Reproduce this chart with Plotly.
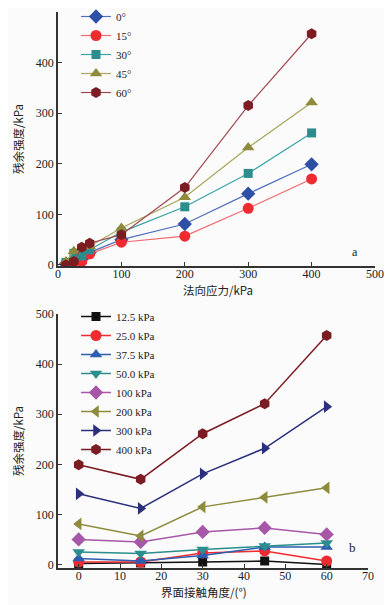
import plotly.graph_objects as go

# ---- data ----
normal_stress = [12.5, 25.0, 37.5, 50.0, 100, 200, 300, 400]          # kPa
angles = [0, 15, 30, 45, 60]                                        # degrees
stress_labels = ["12.5 kPa", "25.0 kPa", "37.5 kPa", "50.0 kPa", "100 kPa", "200 kPa", "300 kPa", "400 kPa"]
angle_labels = ["0°", "15°", "30°", "45°", "60°"]

# residual strength (kPa) per normal stress, values at angles 0,15,30,45,60
res_12_5 = [2, 3, 5, 7, 0]
res_25_0 = [5, 5, 23, 27, 7]
res_37_5 = [12, 7, 18, 35, 35]
res_50_0 = [25, 22, 30, 37, 43]
res_100 = [50, 45, 65, 73, 60]
res_200 = [81, 57, 115, 134, 153]
res_300 = [141, 112, 181, 232, 315]
res_400 = [199, 170, 261, 321, 457]
by_stress = [res_12_5, res_25_0, res_37_5, res_50_0, res_100, res_200, res_300, res_400]

# ---- styles ----
top_colors = ["#2D50A6", "#EE2B30", "#2A8E8E", "#8E8B3C", "#7B1C22"]
top_lines = ["#4F6FC0", "#F06A6E", "#3AA3A3", "#A8A45A", "#A04850"]
top_symbols = ["diamond", "circle", "square", "triangle-up", "hexagon"]
bot_colors = ["#111111", "#EE2B30", "#2D5DAF", "#2A8E8E", "#A757A8", "#8E8B3C", "#2B2F7C", "#7B1C22"]
bot_symbols = ["square", "circle", "triangle-up", "triangle-down", "diamond", "triangle-left", "triangle-right", "hexagon"]

SERIF = "Liberation Serif"
CJK = "Noto Sans CJK SC"
OFF = 8  # default body margin of the page
W, H = 392 - OFF, 605 - OFF
ML, MR, MT, MB = 58 - OFF, 17, 12 - OFF, 37
PW, PH = W - ML - MR, H - MT - MB

def dx(px):
    return (px - OFF - ML) / PW

def dy(px):
    return 1 - (px - OFF - MT) / PH

fig = go.Figure()

for i, lab in enumerate(angle_labels):
    fig.add_trace(go.Scatter(
        x=normal_stress, y=[row[i] for row in by_stress], name=lab,
        mode="lines+markers", xaxis="x", yaxis="y", legend="legend",
        line=dict(color=top_lines[i], width=1.2),
        marker=dict(symbol=top_symbols[i], color=top_colors[i], size=11 if top_symbols[i] != "square" else 9, line=dict(width=0)),
    ))

for j, lab in enumerate(stress_labels):
    fig.add_trace(go.Scatter(
        x=angles, y=by_stress[j], name=lab,
        mode="lines+markers", xaxis="x2", yaxis="y2", legend="legend2",
        line=dict(color=bot_colors[j], width=1.5),
        marker=dict(symbol=bot_symbols[j], color=bot_colors[j], size=11 if bot_symbols[j] != "square" else 9, line=dict(width=0)),
    ))

tickfont = dict(family=SERIF, size=12, color="#222222")
axis_common = dict(showline=True, linecolor="#333333", linewidth=1.5, ticks="inside", ticklen=4,
                   tickcolor="#333333", tickwidth=1.2, showgrid=False, zeroline=False, tickfont=tickfont,
                   automargin=False)
title_font = dict(family=CJK, size=11.5, color="#222")

fig.update_layout(
    width=W, height=H,
    margin=dict(l=ML, r=MR, t=MT, b=MB, autoexpand=False),
    paper_bgcolor="#FBFBFB", plot_bgcolor="#FBFBFB",
    showlegend=True,
    xaxis=dict(domain=[dx(58), dx(375)], anchor="y", range=[0, 500], dtick=100, ticklabelstandoff=-4,
               **axis_common),
    yaxis=dict(domain=[dy(266), dy(12)], anchor="x", range=[-2, 500], dtick=100,
               title=dict(text="残余强度/kPa", font=title_font, standoff=10), **axis_common),
    xaxis2=dict(domain=[dx(58), dx(368)], anchor="y2", range=[-5, 70], tickvals=[0, 10, 20, 30, 40, 50, 60, 70],
                ticklabelstandoff=-4, **axis_common),
    yaxis2=dict(domain=[dy(568), dy(314)], anchor="x2", range=[-7, 500], dtick=100,
                title=dict(text="残余强度/kPa", font=title_font, standoff=10), **axis_common),
    legend=dict(x=dx(76), y=dy(2), xanchor="left", yanchor="top", bgcolor="rgba(0,0,0,0)",
                font=dict(family=SERIF, size=11, color="#222"), tracegroupgap=0, itemwidth=30),
    legend2=dict(x=dx(76), y=dy(302), xanchor="left", yanchor="top", bgcolor="rgba(0,0,0,0)",
                 font=dict(family=SERIF, size=11, color="#222"), tracegroupgap=0, itemwidth=30),
    annotations=[
        dict(text="法向应力/kPa", x=dx(218), y=dy(290), xref="paper", yref="paper", showarrow=False,
             xanchor="center", yanchor="middle", font=title_font),
        dict(text="界面接触角度/(°)", x=dx(204), y=dy(592), xref="paper", yref="paper", showarrow=False,
             xanchor="center", yanchor="middle", font=title_font),
        dict(text="a", x=dx(360), y=dy(252), xref="paper", yref="paper", showarrow=False,
             font=dict(family=SERIF, size=12, color="#222")),
        dict(text="b", x=dx(358), y=dy(557), xref="paper", yref="paper", showarrow=False,
             font=dict(family=SERIF, size=13, color="#222")),
    ],
)

fig.write_html("out.html")
